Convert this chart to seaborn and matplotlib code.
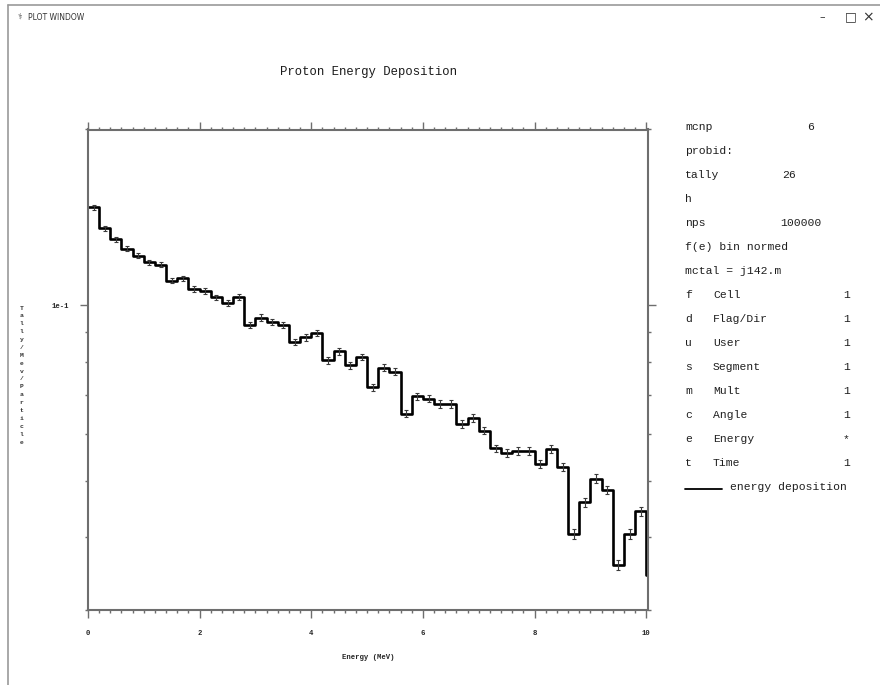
import numpy as np
import matplotlib
matplotlib.use("Agg")
import matplotlib.pyplot as plt
from matplotlib.lines import Line2D
from matplotlib.ticker import FixedLocator, MultipleLocator, NullFormatter, FuncFormatter
import seaborn as sns

# Tally 26: proton energy deposition, 0.2 MeV bins, normalised per bin width
bin_width = 0.2
tally = [0.1472, 0.1355, 0.1297, 0.1249, 0.1216, 0.1183, 0.1173, 0.1101, 0.1111, 0.1065,
         0.1058, 0.1031, 0.1007, 0.1033, 0.0924, 0.0952, 0.0936, 0.0926, 0.0865, 0.0880,
         0.0896, 0.0804, 0.0833, 0.0788, 0.0815, 0.0723, 0.0781, 0.0768, 0.0651, 0.0697,
         0.0691, 0.0677, 0.0677, 0.0626, 0.0640, 0.0609, 0.0568, 0.0557, 0.0563, 0.0563,
         0.0534, 0.0567, 0.0528, 0.0405, 0.0459, 0.0504, 0.0482, 0.0358, 0.0405, 0.0443]
overflow = 0.0345  # bin above 10 MeV
rel_err = [0.010, 0.010, 0.010, 0.010, 0.010, 0.010, 0.011, 0.011, 0.011, 0.011,
           0.011, 0.011, 0.012, 0.012, 0.012, 0.012, 0.012, 0.012, 0.013, 0.013,
           0.013, 0.013, 0.013, 0.013, 0.013, 0.014, 0.014, 0.014, 0.014, 0.014,
           0.014, 0.015, 0.015, 0.015, 0.015, 0.015, 0.015, 0.016, 0.016, 0.016,
           0.016, 0.016, 0.016, 0.018, 0.017, 0.017, 0.017, 0.019, 0.018, 0.018]
x_ticks = [0, 2, 4, 6, 8, 10]

side_rows = [
    ("mcnp", None, "6", 807),
    ("probid:", None, None, None),
    ("tally", None, "26", 782),
    ("h", None, None, None),
    ("nps", None, "100000", 780),
    ("f(e) bin normed", None, None, None),
    ("mctal = j142.m", None, None, None),
    ("f", "Cell", "1", 843),
    ("d", "Flag/Dir", "1", 843),
    ("u", "User", "1", 843),
    ("s", "Segment", "1", 843),
    ("m", "Mult", "1", 843),
    ("c", "Angle", "1", 843),
    ("e", "Energy", "*", 843),
    ("t", "Time", "1", 843),
]

sns.set_style("white")
plt.rcParams["font.family"] = ["Liberation Mono", "DejaVu Sans"]

W, H = 880, 685
fig = plt.figure(figsize=(W / 100, H / 100), dpi=100)


def fx(px):
    return px / W


def fy(py):
    return 1 - py / H


ax = fig.add_axes([fx(88), fy(610), fx(648) - fx(88), fy(129.5) - fy(610)])

tally_arr = np.array(tally)
n = len(tally_arr)
lo_edges = np.round(np.arange(n) * bin_width, 1)
centers = lo_edges + bin_width / 2
step_x = np.concatenate([lo_edges, [n * bin_width, (n + 1) * bin_width]])
step_y = np.concatenate([tally_arr, [overflow, overflow]])

sns.lineplot(x=step_x, y=step_y, drawstyle="steps-post", color="black", lw=1.9,
             sort=False, estimator=None, ax=ax)
ax.errorbar(centers, tally_arr, yerr=tally_arr * np.array(rel_err), fmt="none",
            ecolor="#3a3a3a", elinewidth=0.8, capsize=1.6, capthick=0.8)

ax.set_yscale("log")
ax.set_xlim(0, 10.03)
ax.set_ylim(0.03, 0.2)

ax.xaxis.set_major_locator(FixedLocator(x_ticks))
ax.xaxis.set_minor_locator(MultipleLocator(bin_width))
ax.xaxis.set_major_formatter(FuncFormatter(lambda v, p: f"{v:g}"))
ax.yaxis.set_major_locator(FixedLocator([0.1]))
ax.yaxis.set_major_formatter(FuncFormatter(lambda v, p: f"1e{int(round(np.log10(v)))}"))
ax.yaxis.set_minor_formatter(NullFormatter())

edge_col = "#6e6e6e"
for sp in ax.spines.values():
    sp.set_color(edge_col)
    sp.set_linewidth(1.5)
ax.tick_params(which="both", direction="out", top=True, right=True, bottom=True, left=True,
               color=edge_col, width=1.0, labelsize=5.2)
ax.tick_params(which="major", length=5.5)
ax.tick_params(which="minor", length=2.5)
ax.tick_params(axis="x", which="major", pad=9)
ax.tick_params(axis="y", which="major", pad=8)
for lab in ax.get_xticklabels() + ax.get_yticklabels():
    lab.set_fontweight("bold")
ax.set_xlabel("Energy (MeV)", fontsize=5.2, fontweight="bold", labelpad=12)
ax.set_ylabel("")
ax.grid(False)

# title
fig.text(fx(368), fy(72), "Proton Energy Deposition", ha="center", va="center", fontsize=8.8,
         color="#1a1a1a")

# vertical stacked y label
ylab = "Tally/Mev/Particle"
for i, ch in enumerate(ylab):
    fig.text(fx(21.5), fy(308 + i * (134 / (len(ylab) - 1))), ch, ha="center", va="center",
             fontsize=4.6, fontweight="bold", color="#333333")

# side information panel
row0, dy = 127.5, 23.95
txt_col = "#1f1f1f"
for i, (a, b, c, cx) in enumerate(side_rows):
    yy = fy(row0 + i * dy)
    fig.text(fx(685), yy, a, ha="left", va="center", fontsize=8.2, color=txt_col)
    if b:
        fig.text(fx(713), yy, b, ha="left", va="center", fontsize=8.2, color=txt_col)
    if c:
        fig.text(fx(cx), yy, c, ha="left", va="center", fontsize=8.2, color=txt_col)
yl = fy(row0 + len(side_rows) * dy)
fig.add_artist(Line2D([fx(685), fx(722)], [yl - 0.004, yl - 0.004], color="black", lw=1.3,
                      transform=fig.transFigure))
fig.text(fx(730), yl, "energy deposition", ha="left", va="center", fontsize=8.2, color=txt_col)

# window frame
frame = "#9a9a9a"
fig.add_artist(Line2D([fx(8), fx(880)], [fy(5), fy(5)], color=frame, lw=1.2, transform=fig.transFigure))
fig.add_artist(Line2D([fx(8), fx(8)], [fy(5), fy(685)], color=frame, lw=1.2, transform=fig.transFigure))
fig.text(fx(28), fy(17.5), "PLOT WINDOW", ha="left", va="center", fontsize=5.5,
         family=["DejaVu Sans"], color="#333333")
fig.text(fx(20), fy(17.5), "\u2695", ha="center", va="center", fontsize=6,
         family=["DejaVu Sans"], color="#555555")
fig.text(fx(822), fy(17), "\u2013", ha="center", va="center", fontsize=8,
         family=["DejaVu Sans"], color="#333333")
fig.text(fx(851), fy(17), "\u25a1", ha="center", va="center", fontsize=9,
         family=["DejaVu Sans"], color="#333333")
fig.text(fx(868), fy(17), "\u00d7", ha="center", va="center", fontsize=10,
         family=["DejaVu Sans"], color="#333333")

fig.savefig("out.png", dpi=100, facecolor="white")
